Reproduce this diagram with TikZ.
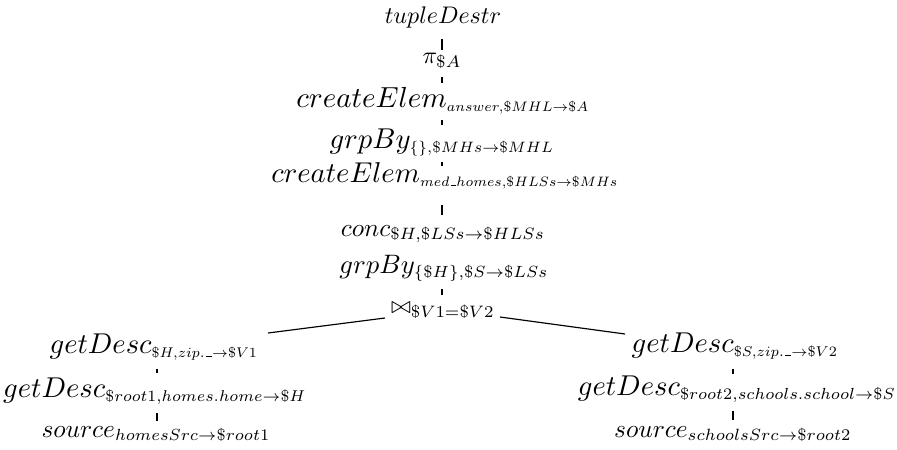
\documentclass[tikz,border=0pt]{standalone}
\usetikzlibrary{calc}
\newcommand{\usc}{\mbox{\kern.06em\vbox{\hrule width .3em height .8pt}}}
\newcommand{\tlab}[3]{$#1_{\scalebox{#2}{$\scriptstyle #3$}}$}
\begin{document}
\begin{tikzpicture}[x=0.3pt,y=-0.3pt,
  lbl/.style={anchor=base,inner sep=0pt,outer sep=0pt},
  edge/.style={draw=black,line width=0.35pt}]
\useasboundingbox (0,0) rectangle (897,449);
\node[lbl,scale=0.72] (tD) at (443,23) {$tupleDestr$};
\node[lbl,scale=0.72] (pi) at (442,63) {\tlab{\pi}{1}{\$A}};
\node[lbl,scale=0.87] (cE1) at (443,107) {\tlab{createElem}{0.68}{answer,\$MHL\rightarrow\$A}};
\node[lbl,scale=0.86] (gB1) at (442,148) {\tlab{grpBy}{0.75}{\{\},\$MHs\rightarrow\$MHL}};
\node[lbl,scale=0.86] (cE2) at (445,182) {\tlab{createElem}{0.68}{med\usc homes,\$HLSs\rightarrow\$MHs}};
\node[lbl,scale=0.76] (conc) at (443,236) {\tlab{conc}{0.93}{\$H,\$LSs\rightarrow\$HLSs}};
\node[lbl,scale=0.8] (gB2) at (444,273) {\tlab{grpBy}{0.87}{\{\$H\},\$S\rightarrow\$LSs}};
\node[lbl,scale=0.71] (join) at (443,313) {\tlab{\bowtie}{1}{\$V1=\$V2}};
\node[lbl,scale=0.86] (gL) at (154,353) {\tlab{getDesc}{0.70}{\$H,zip.\usc\rightarrow\$V1}};
\node[lbl,scale=0.86] (gL2) at (155,397) {\tlab{getDesc}{0.78}{\$root1,homes.home\rightarrow\$H}};
\node[lbl,scale=0.76] (sL) at (156,437) {\tlab{source}{0.91}{homesSrc\rightarrow\$root1}};
\node[lbl,scale=0.86] (gR) at (735,352) {\tlab{getDesc}{0.71}{\$S,zip.\usc\rightarrow\$V2}};
\node[lbl,scale=0.86] (gR2) at (737,395) {\tlab{getDesc}{0.8}{\$root2,schools.school\rightarrow\$S}};
\node[lbl,scale=0.76] (sR) at (733,437) {\tlab{source}{0.92}{schoolsSrc\rightarrow\$root2}};
\draw[edge] ($(tD.base)+(-1,16)$) -- ($(pi.base)+(0,-13)$);
\draw[edge] ($(pi.base)+(0,14)$) -- ($(cE1.base)+(-1,-24)$);
\draw[edge] ($(cE1.base)+(-1,13)$) -- ($(gB1.base)+(0,-23)$);
\draw[edge] ($(gB1.base)+(0,14)$) -- ($(cE2.base)+(-3,-16)$);
\draw[edge] ($(cE2.base)+(-3,23)$) -- ($(conc.base)+(-1,-21)$);
\draw[edge] ($(gB2.base)+(-2,16)$) -- ($(join.base)+(-1,-18)$);
\draw[edge] ($(join.base)+(-58,5)$) -- ($(gL.base)+(114,-20)$);
\draw[edge] ($(join.base)+(57,4)$) -- ($(gR.base)+(-110,-18)$);
\draw[edge] ($(gL.base)+(3,16)$) -- ($(gL2.base)+(2,-24)$);
\draw[edge] ($(gL2.base)+(2,16)$) -- ($(sL.base)+(1,-16)$);
\draw[edge] ($(gR.base)+(-2,17)$) -- ($(gR2.base)+(-4,-21)$);
\draw[edge] ($(gR2.base)+(-4,16)$) -- ($(sR.base)+(0,-17)$);
\end{tikzpicture}
\end{document}
